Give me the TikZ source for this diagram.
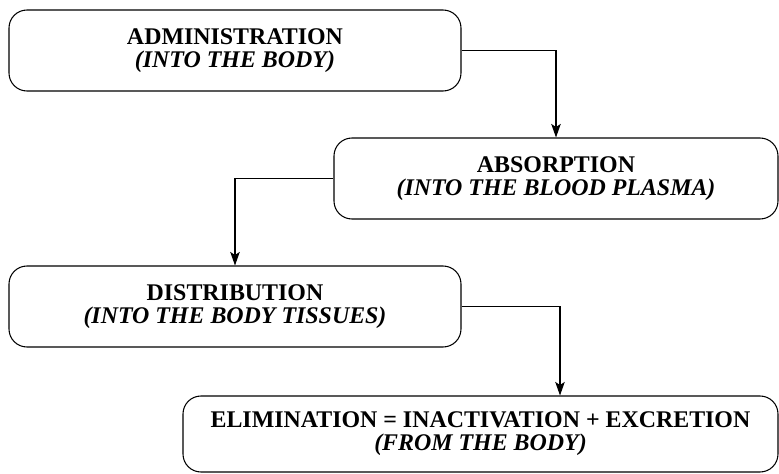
\documentclass[tikz,border=0pt]{standalone}
\usepackage{fontspec}
\setmainfont{Liberation Serif}
\usepackage{tikz}
\usetikzlibrary{arrows,arrows.meta}
\tikzstyle{stage} = [draw, semithick, rounded corners=0.36cm, align=center, inner sep=0pt, minimum height=1.62cm, font=\fontsize{13.6}{13}\selectfont\bfseries]
\tikzstyle{flow} = [style={->,>={Stealth[length=0.27cm,width=0.19cm,inset=0.06cm]},style=semithick}]

\begin{document}
\begin{tikzpicture}
        \useasboundingbox (0,0) rectangle (15.58,9.46);
        \node[stage, minimum width=9.04cm] (adm) at (4.70,8.45) {ADMINISTRATION\\\textit{(INTO THE BODY)}};
        \node[stage, minimum width=8.88cm] (abs) at (11.12,5.89) {ABSORPTION\\\textit{(INTO THE BLOOD PLASMA)}};
        \node[stage, minimum width=9.04cm] (dist) at (4.70,3.33) {DISTRIBUTION\\\textit{(INTO THE BODY TISSUES)}};
        \node[stage, minimum width=11.90cm, minimum height=1.52cm] (elim) at (9.61,0.78) {ELIMINATION = INACTIVATION + EXCRETION\\\textit{(FROM THE BODY)}};
        \draw[flow] (adm) -| (abs);
        \draw[flow] (abs) -| (dist);
        \draw[flow] (dist.east) -| ([xshift=1.59cm]elim.north);
      \end{tikzpicture}
\end{document}
